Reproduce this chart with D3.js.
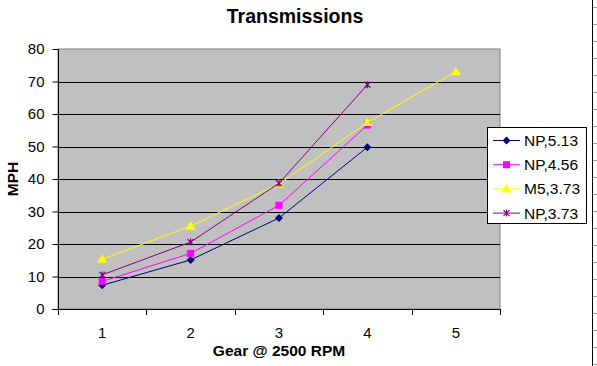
<!DOCTYPE html>
<html><head><meta charset="utf-8">
<script src="https://cdn.jsdelivr.net/npm/d3@7/dist/d3.min.js"></script>
<style>body{margin:0;background:#fff}svg{display:block;font-family:Arial,"Liberation Sans",sans-serif}</style>
</head><body><svg id="c" width="597" height="366"></svg>
<script>
const gears = ["1","2","3","4","5"];
const seriesNames = ["NP,5.13","NP,4.56","M5,3.73","NP,3.73"];
const np513 = [7.3, 15.1, 28.0, 49.8];
const np456 = [8.5, 17.1, 31.9, 56.6];
const m5373 = [15.3, 25.5, 38.5, 57.4, 73.0];
const np373 = [10.5, 20.6, 38.7, 69.0];
const yTicks = [0,10,20,30,40,50,60,70,80];
const colors = ["#000080","#ff00ff","#ffff00","#800080"];
const markers = ["diamond","square","triangle","star"];
const allSeries = [np513, np456, m5373, np373];

const svg = d3.select("#c");
const L = 58, R = 500, T = 49, B = 309;
const x = d3.scaleBand().domain(gears).range([L, R]);
const y = d3.scaleLinear().domain([0, 80]).range([B, T]);

// spreadsheet edge at right
svg.append("line").attr("x1",592.5).attr("x2",592.5).attr("y1",0).attr("y2",366).attr("stroke","#000");
for (let yy = 7; yy < 366; yy += 17) {
  svg.append("line").attr("x1",593).attr("x2",597).attr("y1",yy+0.5).attr("y2",yy+0.5).attr("stroke","#999");
}

// plot background
svg.append("rect").attr("x",L).attr("y",T).attr("width",R-L).attr("height",B-T)
  .attr("fill","#c0c0c0").attr("stroke","#808080");

// gridlines
svg.append("g").selectAll("line").data(yTicks.filter(d => d>0 && d<80)).join("line")
  .attr("x1",L).attr("x2",R).attr("y1",d=>Math.round(y(d))+0.5).attr("y2",d=>Math.round(y(d))+0.5)
  .attr("stroke","#000");

// y axis
const ya = svg.append("g").attr("transform",`translate(${L+0.5},0)`)
  .call(d3.axisLeft(y).tickValues(yTicks).tickSize(6).tickPadding(8));
ya.select(".domain").attr("stroke","#000").attr("d",`M-6,${B+0.5}H0V${T}`);
ya.selectAll(".tick line").attr("stroke","#000");
ya.selectAll("text").attr("font-size","15px").attr("fill","#000").attr("font-family","Arial, 'Liberation Sans', sans-serif");

// x axis
const xa = svg.append("g").attr("transform",`translate(0,${B+0.5})`)
  .call(d3.axisBottom(x).tickSize(0).tickPadding(18));
xa.select(".domain").attr("stroke","#000").attr("d",`M${L},0H${R}`);
xa.selectAll("text").attr("font-size","15px").attr("fill","#000").attr("font-family","Arial, 'Liberation Sans', sans-serif");
// boundary ticks
const bounds = gears.map(g => x(g)).concat([R]);
svg.append("g").selectAll("line").data(bounds).join("line")
  .attr("x1",d=>Math.round(d)+0.5).attr("x2",d=>Math.round(d)+0.5)
  .attr("y1",B).attr("y2",B+6).attr("stroke","#000");

// titles
svg.append("text").attr("x",295).attr("y",22.5).attr("text-anchor","middle")
  .attr("font-size","19.5px").attr("font-weight","bold").text("Transmissions");
svg.append("text").attr("x",(L+R)/2).attr("y",356).attr("text-anchor","middle")
  .attr("font-size","15.5px").attr("font-weight","bold").text("Gear @ 2500 RPM");
svg.append("text").attr("transform",`translate(18,${(T+B)/2}) rotate(-90)`).attr("text-anchor","middle")
  .attr("font-size","15.5px").attr("font-weight","bold").text("MPH");

function drawMarker(g, type, cx, cy, color) {
  if (type === "diamond") {
    g.append("path").attr("d",`M${cx},${cy-4}L${cx+4},${cy}L${cx},${cy+4}L${cx-4},${cy}Z`).attr("fill",color);
  } else if (type === "square") {
    g.append("rect").attr("x",cx-3.5).attr("y",cy-3.5).attr("width",7).attr("height",7).attr("fill",color);
  } else if (type === "triangle") {
    g.append("path").attr("d",`M${cx},${cy-5}L${cx+5},${cy+3.5}L${cx-5},${cy+3.5}Z`).attr("fill",color);
  } else {
    g.append("path").attr("d",`M${cx-3},${cy-3}L${cx+3},${cy+3}M${cx+3},${cy-3}L${cx-3},${cy+3}M${cx},${cy-3.5}V${cy+3.5}`)
      .attr("stroke",color).attr("stroke-width",1.2).attr("fill","none");
  }
}

const cx = g => x(g) + x.bandwidth()/2;
allSeries.forEach((vals, i) => {
  const pts = vals.map((v, j) => [cx(gears[j]), y(v)]);
  const g = svg.append("g");
  g.append("path").attr("d", d3.line()(pts)).attr("fill","none").attr("stroke",colors[i]).attr("stroke-width",1);
  pts.forEach(p => drawMarker(g, markers[i], p[0], p[1], colors[i]));
});

// legend
const lg = svg.append("g");
lg.append("rect").attr("x",487.5).attr("y",127.5).attr("width",99).attr("height",96)
  .attr("fill","#fff").attr("stroke","#000");
seriesNames.forEach((n, i) => {
  const ly = 140.5 + i*24.2;
  lg.append("line").attr("x1",493).attr("x2",520).attr("y1",ly).attr("y2",ly).attr("stroke",colors[i]);
  drawMarker(lg, markers[i], 506.5, ly, colors[i]);
  lg.append("text").attr("x",524).attr("y",ly+5.5).attr("font-size","15.5px").text(n);
});
</script></body></html>
